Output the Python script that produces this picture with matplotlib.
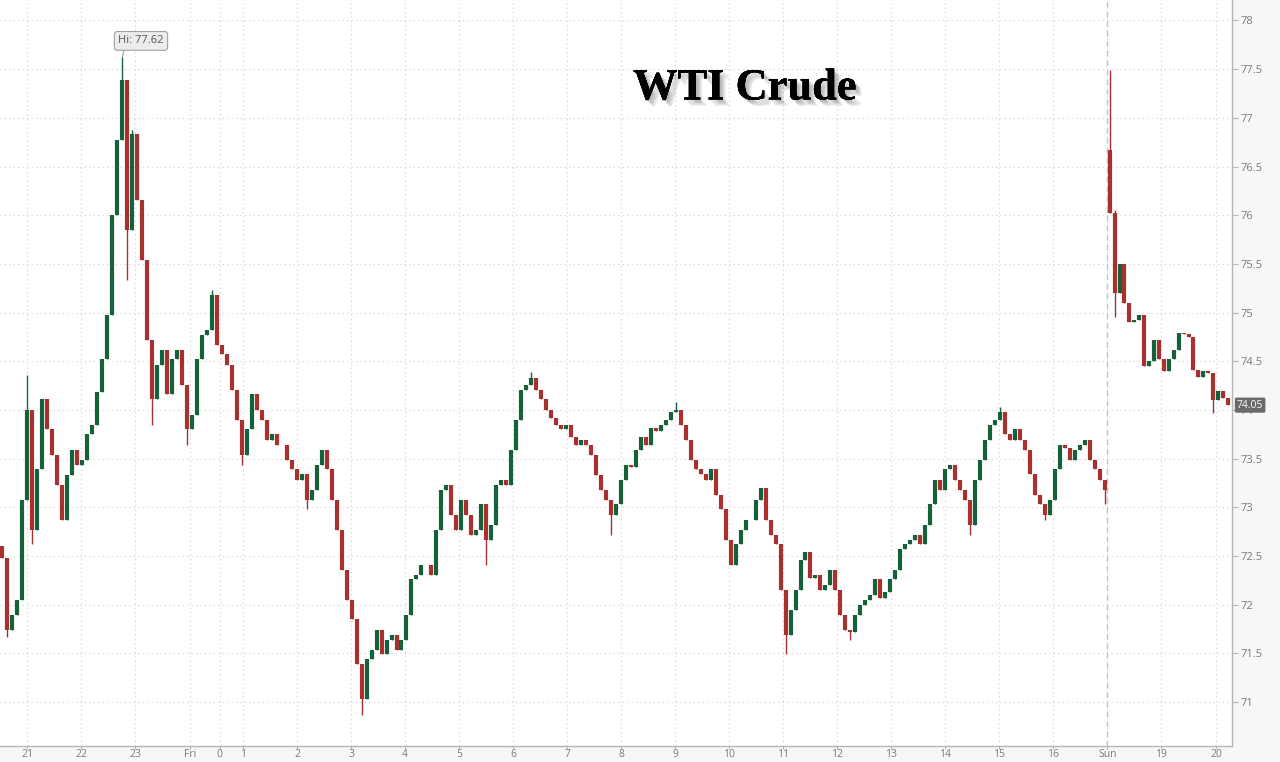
" WTI crude intraday candles, Thu evening to Sunday open "

import matplotlib
matplotlib.use("Agg")
import numpy as np
import matplotlib.pyplot as plt
import matplotlib.patheffects as pe
from matplotlib.transforms import blended_transform_factory

# hours counted from Thursday 21:00; the weekend gap is squeezed out
fri_start, fri_end = -0.5, 20.0
sun_start, sun_end = 20.0, 22.28

fri_open_first = 72.60
fri_close = [
    72.48, 71.74, 71.90, 72.05, 73.08, 74.00, 72.77, 73.39, 74.11, 73.80,
    73.54, 73.23, 72.87, 73.33, 73.59, 73.44, 73.49, 73.75, 73.85, 74.18,
    74.52, 74.98, 76.00, 76.77, 77.39, 75.85, 76.83, 76.16, 75.54, 74.72,
    74.11, 74.46, 74.62, 74.16, 74.52, 74.62, 74.26, 73.80, 73.95, 74.52,
    74.77, 74.82, 75.18, 74.67, 74.57, 74.46, 74.21, 73.90, 73.54, 73.80,
    74.16, 74.00, 73.90, 73.69, 73.75, 73.64, 73.64, 73.49, 73.39, 73.28,
    73.34, 73.08, 73.18, 73.44, 73.59, 73.39, 73.08, 72.77, 72.36, 72.05,
    71.85, 71.39, 71.03, 71.44, 71.54, 71.74, 71.49, 71.64, 71.69, 71.54,
    71.64, 71.90, 72.26, 72.31, 72.41, 72.41, 72.31, 72.77, 73.18, 73.23,
    72.92, 72.77, 73.08, 72.92, 72.72, 72.77, 73.03, 72.67, 72.82, 73.23,
    73.28, 73.23, 73.59, 73.90, 74.21, 74.26, 74.33, 74.21, 74.11, 74.00,
    73.92, 73.85, 73.80, 73.85, 73.72, 73.64, 73.69, 73.64, 73.54, 73.33,
    73.18, 73.08, 72.92, 73.03, 73.28, 73.44, 73.41, 73.59, 73.72, 73.64,
    73.82, 73.78, 73.85, 73.90, 73.98, 74.00, 73.85, 73.69, 73.49, 73.39,
    73.34, 73.28, 73.39, 73.13, 72.98, 72.67, 72.41, 72.62, 72.77, 72.87,
    72.87, 73.08, 73.20, 72.87, 72.72, 72.62, 72.15, 71.69, 71.95, 72.15,
    72.46, 72.54, 72.28, 72.31, 72.15, 72.20, 72.36, 72.15, 71.90, 71.74,
    71.72, 71.90, 72.00, 72.05, 72.10, 72.26, 72.07, 72.13, 72.26, 72.36,
    72.57, 72.62, 72.67, 72.72, 72.62, 72.82, 73.03, 73.28, 73.18, 73.39,
    73.44, 73.28, 73.18, 73.08, 72.82, 73.28, 73.49, 73.69, 73.85, 73.90,
    73.98, 73.75, 73.69, 73.80, 73.69, 73.59, 73.34, 73.13, 73.03, 72.92,
    73.08, 73.39, 73.64, 73.61, 73.49, 73.59, 73.64, 73.69, 73.49, 73.39,
    73.28, 73.18,
]
fri_high_wicks = {5: 74.36, 24: 77.62, 26: 76.88, 42: 75.23, 106: 74.39,
                  135: 74.08, 200: 74.03}
fri_low_wicks = {1: 71.67, 6: 72.62, 25: 75.34, 30: 73.85, 37: 73.64,
                 48: 73.44, 61: 72.98, 72: 70.87, 97: 72.41, 122: 72.72,
                 157: 71.49, 170: 71.64, 194: 72.72, 209: 72.87, 221: 73.03}

sun_open_first = 76.67
sun_close = [
    76.02, 75.20, 75.50, 75.10, 74.90, 74.92, 74.98, 74.45, 74.50, 74.72,
    74.52, 74.40, 74.52, 74.62, 74.79, 74.78, 74.75, 74.41, 74.34, 74.40,
    74.38, 74.10, 74.20, 74.12, 74.05,
]
sun_high_wicks = {0: 77.49, 1: 76.05}
sun_low_wicks = {1: 74.96, 21: 73.97}

hi_value = 77.62
last_value = 74.05

tick_pos = [0, 1, 2, 3.02, 3.57, 4, 5, 6, 7, 8, 9, 10, 11, 12, 13, 14, 15,
            16, 17, 18, 19, 20, 21, 22.02]
tick_labels = ["21", "22", "23", "Fri", "0", "1", "2", "3", "4", "5", "6", "7",
               "8", "9", "10", "11", "12", "13", "14", "15", "16", "Sun", "19",
               "20"]
y_ticks = np.arange(71.0, 78.01, 0.5)

UP = "#17613a"
DOWN = "#a8302f"


def draw_session(ax, t0, t1, first_open, closes, high_wicks, low_wicks):
    """Draw one session of candles evenly spread between t0 and t1."""
    closes = np.asarray(closes)
    n = len(closes)
    step = (t1 - t0) / n
    x = t0 + step * (np.arange(n) + 0.5)
    opens = np.concatenate([[first_open], closes[:-1]])
    highs = np.maximum(opens, closes)
    lows = np.minimum(opens, closes)
    for i, v in high_wicks.items():
        highs[i] = v
    for i, v in low_wicks.items():
        lows[i] = v
    colors = [UP if c >= o else DOWN for o, c in zip(opens, closes)]
    ax.vlines(x, lows, highs, colors=colors, linewidth=1.0, zorder=3)
    ax.vlines(x, np.minimum(opens, closes), np.maximum(opens, closes),
              colors=colors, linewidth=3.0, zorder=3)
    return x


fig = plt.figure(figsize=(12.8, 7.62), dpi=100, facecolor="#f7f7f7")
ax = fig.add_axes([0.0, 0.021, 0.9625, 0.979])
ax.set_facecolor("white")

fri_x = draw_session(ax, fri_start, fri_end, fri_open_first, fri_close,
                     fri_high_wicks, fri_low_wicks)
draw_session(ax, sun_start, sun_end, sun_open_first, sun_close,
             sun_high_wicks, sun_low_wicks)

ax.set_xlim(-0.5, 22.31)
ax.set_ylim(70.55, 78.21)

# grid and the session break
for t in tick_pos:
    ax.axvline(t, color="#cfcfcf", linewidth=0.8, linestyle=(0, (1, 3)), zorder=1)
for v in y_ticks:
    ax.axhline(v, color="#cfcfcf", linewidth=0.8, linestyle=(0, (1, 3)), zorder=1)
ax.axvline(sun_start, color="#c4c4c4", linewidth=1.0, linestyle=(0, (4, 3)), zorder=2)

for side in ("top", "left"):
    ax.spines[side].set_visible(False)
for side in ("right", "bottom"):
    ax.spines[side].set_color("#b5b5b5")
    ax.spines[side].set_linewidth(1.0)

ax.yaxis.tick_right()
ax.set_yticks(y_ticks)
ax.set_yticklabels([f"{v:g}" for v in y_ticks])
ax.set_xticks(tick_pos)
ax.set_xticklabels(tick_labels)
ax.tick_params(axis="y", length=4, color="#b5b5b5", labelcolor="#7a7a7a",
               labelsize=8, pad=2)
ax.tick_params(axis="x", length=2, color="#b5b5b5", labelcolor="#7a7a7a",
               labelsize=7.5, pad=0.5)
for lab in ax.get_xticklabels() + ax.get_yticklabels():
    lab.set_family("Open Sans")

# high callout
hi_idx = fri_close.index(max(fri_close))
ax.annotate(
    f"Hi: {hi_value:.2f}",
    xy=(fri_x[hi_idx], hi_value),
    xytext=(2.11, 77.79),
    ha="center", va="center", fontsize=8, color="#555555", family="Open Sans",
    bbox=dict(boxstyle="round,pad=0.35,rounding_size=0.3", fc="#ececec",
              ec="#a0a0a0", lw=0.8),
    arrowprops=dict(arrowstyle="-", color="#a0a0a0", lw=0.8,
                    shrinkA=0, shrinkB=0, relpos=(0.15, 0.0)),
    zorder=5,
)

# last price tag on the axis
trans = blended_transform_factory(ax.transAxes, ax.transData)
ax.text(1.004, last_value, f"{last_value:.2f}", transform=trans, ha="left",
        va="center", fontsize=7.5, color="white", family="Open Sans",
        bbox=dict(boxstyle="round,pad=0.2,rounding_size=0.15", fc="#6a6a6a",
                  ec="none"), clip_on=False, zorder=6)

# soft shadow built from a few faint offset copies
shadow = [pe.withSimplePatchShadow(offset=(d, -d), shadow_rgbFace="#666666",
                                   alpha=0.14) for d in (1.5, 2.5, 3.5, 4.5)]
fig.text(0.582, 0.884, "WTI Crude", ha="center", va="center", fontsize=32,
         fontweight="bold", family="Liberation Serif", color="black",
         path_effects=shadow + [pe.Normal()])

fig.savefig("out.png", dpi=100, facecolor=fig.get_facecolor())
plt.close()
